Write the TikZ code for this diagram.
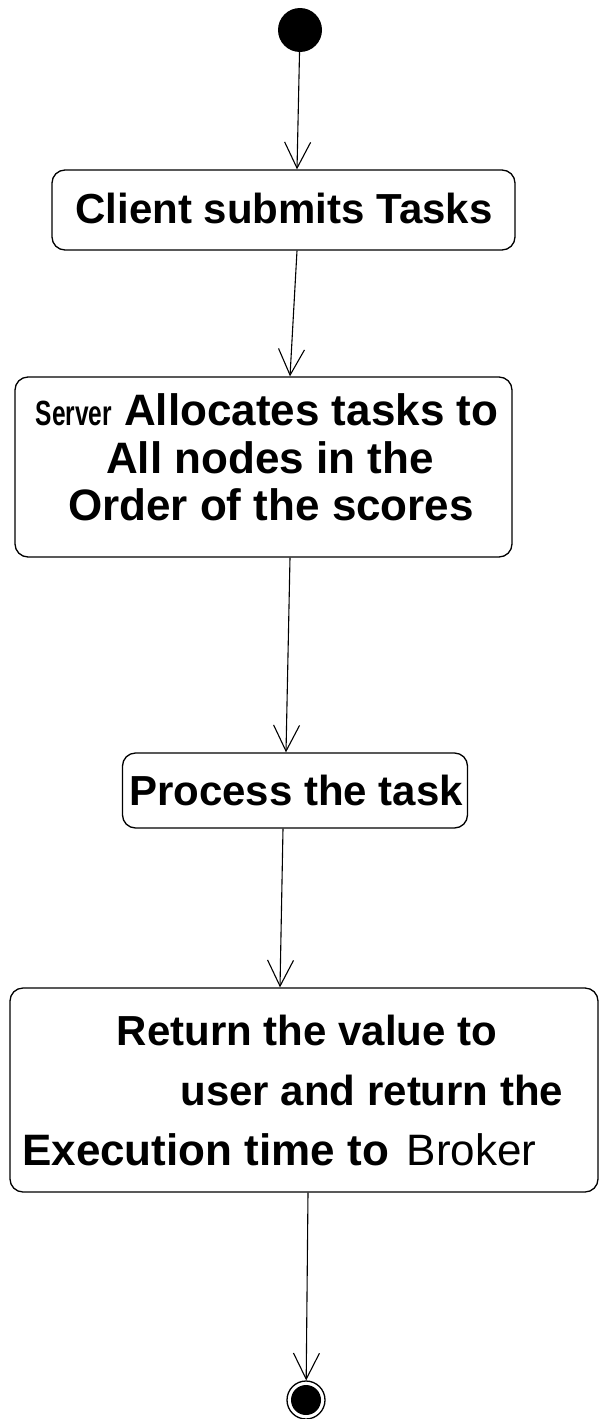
\documentclass[tikz,border=0pt]{standalone}
\usepackage{fontspec}
\usepackage{graphicx}
\setmainfont{Liberation Sans}
\usetikzlibrary{arrows.meta}
\begin{document}
\begin{tikzpicture}[x=1pt,y=-1pt,
  act/.style={draw, rounded corners=13pt, line width=1.3pt, inner sep=0pt},
  lbl/.style={font=\fontsize{42}{46}\selectfont\bfseries, inner sep=0pt, anchor=base},
  big/.style={lbl, font=\fontsize{44}{48}\selectfont\bfseries},
  flow/.style={line width=1.1pt, -{Straight Barb[length=26pt,width=26pt,line width=1.1pt]}},
]
\useasboundingbox (0,0) rectangle (601,1419);

% initial and final states
\node[circle, fill=black, minimum size=44pt, inner sep=0pt] (start) at (300,30) {};
\node[circle, draw, line width=1.3pt, minimum size=38pt, inner sep=0pt] (stop) at (306,1400) {};
\fill (stop.center) circle (15pt);

% activities
\node[act, minimum width=463pt, minimum height=80pt] (b1) at (283.5,210) {};
\node[lbl] (t1) at (284,223) {Client submits Tasks};

\node[act, minimum width=497pt, minimum height=180pt] (b2) at (263.5,467) {};
\node[big] (t2a) at (267,425) {\scalebox{0.7}[1]{\fontsize{35}{37}\selectfont Server} Allocates tasks to};
\node[big] (t2b) at (270,473) {All nodes in the};
\node[big] (t2c) at (271,520) {Order of the scores};

\node[act, minimum width=345pt, minimum height=75pt] (b3) at (295,790.5) {};
\node[lbl] (t3) at (296,805) {Process the task};

\node[act, minimum width=588pt, minimum height=204pt] (b4) at (304,1090) {};
\node[lbl] (t4a) at (307,1045) {Return the value to};
\node[lbl] (t4b) at (372,1105) {user and return the};
\node[big, anchor=base west] (t4c) at (22,1165) {Execution time to\hspace{18pt}\mdseries Broker};

% transitions
\draw[flow] (start) -- ([xshift=13.5pt]b1.north);
\draw[flow] ([xshift=13.5pt]b1.south) -- ([xshift=26.5pt]b2.north);
\draw[flow] ([xshift=26.5pt]b2.south) -- ([xshift=-9pt]b3.north);
\draw[flow] ([xshift=-12pt]b3.south) -- ([xshift=-24pt]b4.north);
\draw[flow] ([xshift=4pt]b4.south) -- (stop);
\end{tikzpicture}
\end{document}
